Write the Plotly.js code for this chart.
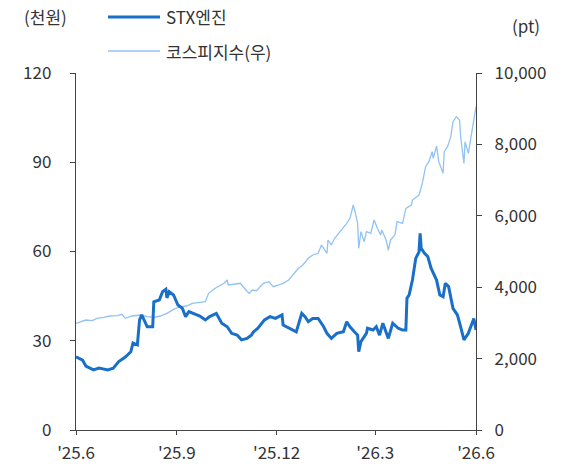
<!DOCTYPE html>
<html>
<head>
<meta charset="utf-8">
<script src="https://cdn.plot.ly/plotly-3.0.1.min.js"></script>
<style>html,body{margin:0;padding:0;background:#fff}#chart{width:574px;height:465px}</style>
</head>
<body>
<div id="chart"></div>
<script>
const stxDates = ['2025-06-01','2025-06-07','2025-06-10','2025-06-17','2025-06-22','2025-06-30','2025-07-05','2025-07-10','2025-07-16','2025-07-21','2025-07-23','2025-07-27','2025-07-29','2025-07-31','2025-08-05','2025-08-10','2025-08-11','2025-08-16','2025-08-19','2025-08-22','2025-08-23','2025-08-25','2025-08-29','2025-09-02','2025-09-06','2025-09-09','2025-09-12','2025-09-16','2025-09-22','2025-09-27','2025-10-01','2025-10-07','2025-10-12','2025-10-17','2025-10-21','2025-10-26','2025-10-30','2025-11-04','2025-11-08','2025-11-10','2025-11-14','2025-11-20','2025-11-25','2025-11-30','2025-12-06','2025-12-07','2025-12-13','2025-12-19','2025-12-24','2025-12-27','2025-12-30','2026-01-03','2026-01-08','2026-01-13','2026-01-16','2026-01-19','2026-01-20','2026-01-25','2026-01-31','2026-02-03','2026-02-06','2026-02-10','2026-02-13','2026-02-14','2026-02-16','2026-02-21','2026-02-22','2026-02-27','2026-03-02','2026-03-05','2026-03-08','2026-03-13','2026-03-17','2026-03-22','2026-03-26','2026-03-29','2026-03-30','2026-04-01','2026-04-04','2026-04-07','2026-04-10','2026-04-11','2026-04-12','2026-04-15','2026-04-18','2026-04-21','2026-04-26','2026-04-29','2026-05-02','2026-05-04','2026-05-07','2026-05-11','2026-05-15','2026-05-18','2026-05-21','2026-05-25','2026-05-29','2026-05-30','2026-06-01'];
const stxValues = [24.6,23.5,21.5,20.2,20.8,20.2,20.8,23,24.5,26.3,29.2,28.6,37,38.7,34.7,34.7,43.1,43.7,46.5,47.3,44.4,46.5,45.4,42,40.9,38.1,39.8,39.2,38.3,37,38.1,39.2,35.9,34.7,32.5,31.9,30.3,30.8,31.9,33,34.2,37,38.1,37.5,38.7,35.3,34.2,33,39.2,38.1,36.4,37.5,37.5,34.7,32.5,31.4,30.8,32.5,33,36.4,34.7,33,31.9,26.3,29.7,32.5,34.2,33.6,34.7,31.9,35.9,30.8,35.9,34.2,33.6,33.6,44.3,45.4,50.4,57.7,59.9,66.1,61.1,59.4,58.3,54.4,50.4,45.4,44.8,49.3,48.2,40.9,38.7,34.7,30.3,32.5,37,37.5,33.6];

const kospiDates = ['2025-06-01','2025-06-05','2025-06-10','2025-06-16','2025-06-20','2025-06-26','2025-07-02','2025-07-09','2025-07-13','2025-07-16','2025-07-22','2025-07-30','2025-08-05','2025-08-11','2025-08-17','2025-08-23','2025-08-29','2025-09-04','2025-09-10','2025-09-15','2025-09-22','2025-09-27','2025-09-30','2025-10-06','2025-10-14','2025-10-17','2025-10-18','2025-10-23','2025-10-29','2025-11-03','2025-11-06','2025-11-09','2025-11-13','2025-11-16','2025-11-19','2025-11-24','2025-11-28','2025-12-03','2025-12-07','2025-12-12','2025-12-16','2025-12-21','2025-12-25','2025-12-30','2026-01-03','2026-01-08','2026-01-11','2026-01-16','2026-01-17','2026-01-20','2026-01-23','2026-01-28','2026-02-03','2026-02-06','2026-02-09','2026-02-11','2026-02-13','2026-02-14','2026-02-16','2026-02-19','2026-02-21','2026-02-25','2026-02-28','2026-03-03','2026-03-06','2026-03-07','2026-03-11','2026-03-13','2026-03-15','2026-03-19','2026-03-21','2026-03-26','2026-03-29','2026-04-03','2026-04-04','2026-04-10','2026-04-13','2026-04-16','2026-04-19','2026-04-22','2026-04-23','2026-04-26','2026-04-28','2026-05-02','2026-05-03','2026-05-06','2026-05-09','2026-05-11','2026-05-14','2026-05-17','2026-05-18','2026-05-21','2026-05-22','2026-05-25','2026-05-28','2026-06-01'];
const kospiValues = [2988,3034,3081,3062,3128,3156,3193,3202,3240,3128,3193,3221,3174,3156,3193,3268,3380,3454,3473,3548,3576,3595,3828,3969,4109,4202,4062,4090,4109,3921,3828,3921,3902,4014,4109,4155,4014,4062,4109,4202,4342,4529,4622,4809,4902,4949,5182,4949,5322,5182,5369,5555,5789,5929,6302,6069,5789,5089,5555,5275,5555,5509,5882,5649,5462,5602,5322,5042,5322,5462,5835,5789,6209,6302,6442,6582,6910,7375,7515,7795,7610,7955,7515,7190,7795,7935,8215,8635,8776,8683,8215,7470,8075,7750,8310,9056];

const xTickVals = ['2025-06-01','2025-09-01','2025-12-01','2026-03-01','2026-06-01'];
const xTickText = ["'25.6","'25.9","'25.12","'26.3","'26.6"];
const leftTicks = [0,30,60,90,120];
const rightTicks = [0,2000,4000,6000,8000,10000];
const seriesNames = ['STX엔진','코스피지수(우)'];
const unitLeft = '(천원)';
const unitRight = '(pt)';

const FONT = '"Noto Sans CJK KR", "Noto Sans", sans-serif';
const TXT = '#333333';
const AX = '#444444';
const C_STX = '#1a6fc8';
const C_KOSPI = '#90c3f3';
const FS = 17;

// kospi on primary axis (right side), STX on overlay (left side) so STX draws on top
const traces = [
  {x: kospiDates, y: kospiValues, name: seriesNames[1], type: 'scatter', mode: 'lines',
   line: {color: C_KOSPI, width: 1.3}, yaxis: 'y'},
  {x: stxDates, y: stxValues, name: seriesNames[0], type: 'scatter', mode: 'lines',
   line: {color: C_STX, width: 3}, yaxis: 'y2'}
];

function px2x(p) { return (p - 76) / 400; }
function px2y(p) { return (430 - p) / 357; }

const layout = {
  width: 574, height: 465,
  margin: {l: 76, r: 98, t: 73, b: 35, autoexpand: false},
  paper_bgcolor: '#fff', plot_bgcolor: 'rgba(0,0,0,0)',
  font: {family: FONT, size: FS, color: TXT},
  showlegend: false,
  xaxis: {type: 'date', range: ['2025-06-01','2026-06-01'], tickvals: xTickVals, ticktext: xTickText,
          showline: true, linecolor: AX, linewidth: 1.2, ticks: 'outside', ticklen: 4, tickcolor: AX,
          showgrid: false, zeroline: false, tickfont: {size: FS, color: TXT}, ticklabelstandoff: 3},
  yaxis: {range: [0, 10000], tickvals: rightTicks, tickformat: ',d', side: 'right',
          showline: true, linecolor: AX, linewidth: 1.2, ticks: 'outside', ticklen: 5, tickcolor: AX,
          showgrid: false, zeroline: false, tickfont: {size: FS, color: TXT}, ticklabelstandoff: 9},
  yaxis2: {range: [0, 120], tickvals: leftTicks, overlaying: 'y', side: 'left',
           showline: true, linecolor: AX, linewidth: 1.2, ticks: 'outside', ticklen: 5, tickcolor: AX,
           showgrid: false, zeroline: false, tickfont: {size: FS, color: TXT}, ticklabelstandoff: 15},
  shapes: [
    {type: 'line', xref: 'paper', yref: 'paper', x0: px2x(108), x1: px2x(160), y0: px2y(17), y1: px2y(17),
     line: {color: C_STX, width: 3}},
    {type: 'line', xref: 'paper', yref: 'paper', x0: px2x(108), x1: px2x(160), y0: px2y(51), y1: px2y(51),
     line: {color: C_KOSPI, width: 1.3}}
  ],
  annotations: [
    {text: seriesNames[0], xref: 'paper', yref: 'paper', x: px2x(164), y: px2y(17), xanchor: 'left', yanchor: 'middle',
     showarrow: false, font: {size: FS, color: TXT}},
    {text: seriesNames[1], xref: 'paper', yref: 'paper', x: px2x(164), y: px2y(51), xanchor: 'left', yanchor: 'middle',
     showarrow: false, font: {size: FS, color: TXT}},
    {text: unitLeft, xref: 'paper', yref: 'paper', x: px2x(45), y: px2y(17), xanchor: 'center', yanchor: 'middle',
     showarrow: false, font: {size: FS, color: TXT}},
    {text: unitRight, xref: 'paper', yref: 'paper', x: px2x(526), y: px2y(25), xanchor: 'center', yanchor: 'middle',
     showarrow: false, font: {size: FS, color: TXT}}
  ]
};

Plotly.newPlot('chart', traces, layout, {displayModeBar: false, staticPlot: true});
</script>
</body>
</html>
